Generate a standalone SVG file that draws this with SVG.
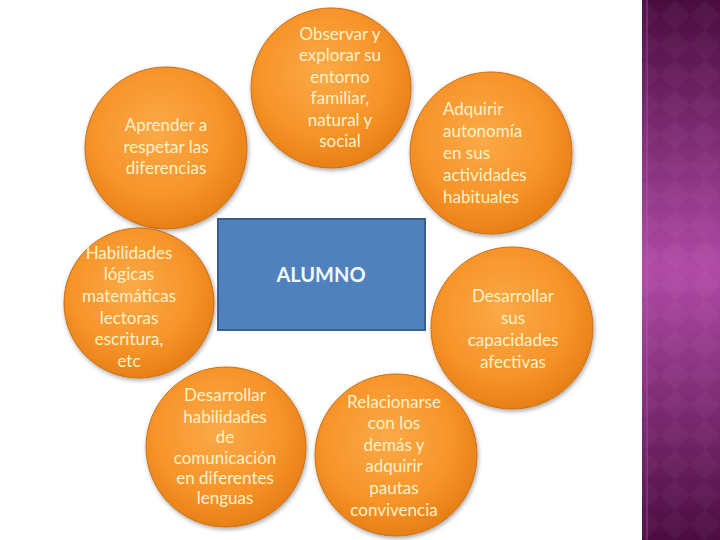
<svg xmlns="http://www.w3.org/2000/svg" width="720" height="540" viewBox="0 0 720 540">
<defs>
<radialGradient id="og" cx="0.45" cy="0.4" r="0.65">
<stop offset="0" stop-color="#fbaa48"/>
<stop offset="0.6" stop-color="#f7942a"/>
<stop offset="1" stop-color="#e47b12"/>
</radialGradient>
<linearGradient id="pg" x1="0" y1="0" x2="0" y2="1">
<stop offset="0" stop-color="#4a0c3f"/>
<stop offset="0.5" stop-color="#b04aa6"/>
<stop offset="1" stop-color="#4c0d41"/>
</linearGradient>
<pattern id="dia" width="30" height="30" patternUnits="userSpaceOnUse">
<path d="M15 0 L30 15 L15 30 L0 15 Z" fill="#ffffff" fill-opacity="0.03"/>
</pattern>
<filter id="sh" x="-20%" y="-20%" width="140%" height="140%">
<feDropShadow dx="1" dy="2" stdDeviation="2" flood-color="#000" flood-opacity="0.35"/>
</filter>
</defs>
<style>
.c{fill:url(#og);stroke:#c96f17;stroke-width:1;filter:url(#sh)}
.t{font-family:Lato,"Liberation Sans",sans-serif;font-size:17px;fill:#fdf1c9;text-anchor:middle}
.l{text-anchor:start}
.b{fill:#4f81bd;stroke:#3a5f8c;stroke-width:2}
.bt{font-family:Lato,"Liberation Sans",sans-serif;font-size:20px;font-weight:bold;fill:#f2f8ff;text-anchor:middle}
</style>
<rect x="0" y="0" width="720" height="540" fill="#ffffff"/>
<g id="sidebar">
<rect x="642" y="0" width="78" height="540" fill="url(#pg)"/>
<rect x="642" y="0" width="78" height="540" fill="url(#dia)"/>
<rect x="646" y="0" width="2" height="540" fill="#c060b0" fill-opacity="0.3"/>
</g>
<g id="connectors"/>
<g id="n1">
<circle class="c" cx="331" cy="88" r="80"/>
<text class="t"><tspan x="340" y="40">Observar y</tspan><tspan x="340" y="61">explorar su</tspan><tspan x="340" y="83">entorno</tspan><tspan x="340" y="104">familiar,</tspan><tspan x="340" y="126">natural y</tspan><tspan x="340" y="147">social</tspan></text>
</g>
<g id="n2">
<circle class="c" cx="166" cy="148" r="81"/>
<text class="t"><tspan x="166" y="131">Aprender a</tspan><tspan x="166" y="153">respetar las</tspan><tspan x="166" y="174">diferencias</tspan></text>
</g>
<g id="n3">
<circle class="c" cx="491" cy="153" r="81"/>
<text class="t l"><tspan x="443" y="115">Adquirir</tspan><tspan x="443" y="137">autonomía</tspan><tspan x="443" y="159">en sus</tspan><tspan x="443" y="181">actividades</tspan><tspan x="443" y="203">habituales</tspan></text>
</g>
<g id="n4">
<circle class="c" cx="139" cy="303" r="75"/>
<text class="t"><tspan x="129" y="259">Habilidades</tspan><tspan x="129" y="280">lógicas</tspan><tspan x="129" y="302">matemáticas</tspan><tspan x="129" y="324">lectoras</tspan><tspan x="129" y="345">escritura,</tspan><tspan x="129" y="367">etc</tspan></text>
</g>
<g id="n5">
<circle class="c" cx="512" cy="328" r="81"/>
<text class="t"><tspan x="513" y="302">Desarrollar</tspan><tspan x="513" y="324">sus</tspan><tspan x="513" y="346">capacidades</tspan><tspan x="513" y="368">afectivas</tspan></text>
</g>
<g id="n6">
<circle class="c" cx="226" cy="447" r="80"/>
<text class="t"><tspan x="225" y="401">Desarrollar</tspan><tspan x="225" y="423">habilidades</tspan><tspan x="225" y="443">de</tspan><tspan x="225" y="464">comunicación</tspan><tspan x="225" y="484">en diferentes</tspan><tspan x="225" y="504">lenguas</tspan></text>
</g>
<g id="n7">
<circle class="c" cx="396" cy="455" r="81"/>
<text class="t"><tspan x="394" y="408">Relacionarse</tspan><tspan x="394" y="429">con los</tspan><tspan x="394" y="451">demás y</tspan><tspan x="394" y="472">adquirir</tspan><tspan x="394" y="494">pautas</tspan><tspan x="394" y="516">convivencia</tspan></text>
</g>
<g id="center">
<rect class="b" x="218" y="219" width="207" height="111"/>
<text class="bt" x="321" y="282">ALUMNO</text>
</g>
</svg>
